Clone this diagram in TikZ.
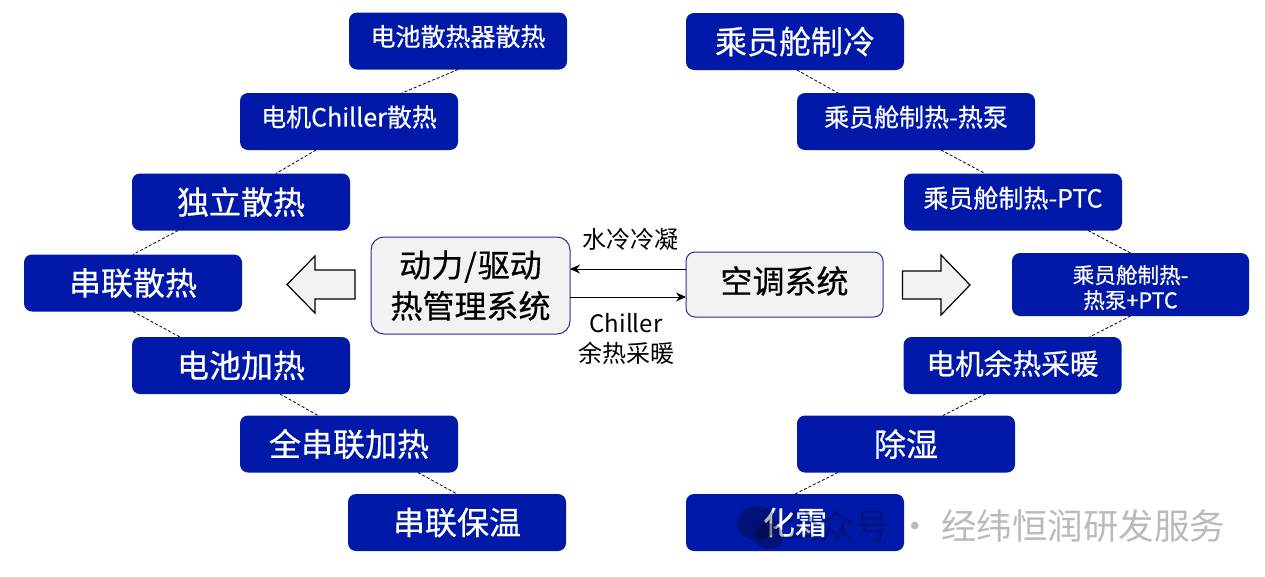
\documentclass[tikz,border=0pt]{standalone}
\usepackage{fontspec}
\setmainfont{Noto Sans CJK SC}
\newfontfamily\boxfont[FakeBold=0.5]{Noto Sans CJK SC}
\usepackage{tikz}
\usetikzlibrary{arrows.meta}
\definecolor{blockblue}{HTML}{0019A8}
\definecolor{framenavy}{HTML}{1F2F9A}
\definecolor{panelgray}{HTML}{F2F2F2}
\newcommand{\lifted}[2]{\raisebox{#1}[\height][\depth]{#2}}
\tikzstyle{modebox} = [rectangle, rounded corners=8pt, minimum width=218pt, minimum height=57pt, inner sep=0pt, outer sep=0pt, align=center, fill=blockblue, text=white, font=\boxfont\fontsize{32}{38}\selectfont]
\tikzstyle{midtext} = [font=\boxfont\fontsize{28.7}{34}\selectfont]
\tikzstyle{smalltext} = [font=\boxfont\fontsize{25}{30}\selectfont]
\tikzstyle{tinytext} = [font=\boxfont\fontsize{21.6}{25}\selectfont]
\tikzstyle{systembox} = [rectangle, inner sep=0pt, outer sep=0pt, align=center, draw=framenavy, line width=1pt, fill=panelgray, font=\boxfont\fontsize{32}{41}\selectfont]
\tikzstyle{link} = [densely dashed, line width=0.8pt, black]
\tikzstyle{arrow} = [line width=1pt, -{Stealth[length=10pt,width=9pt]}]
\tikzstyle{bigarrow} = [draw=black, line width=1.2pt, fill=panelgray, line join=miter]
\tikzstyle{edgetext} = [align=center, font=\fontsize{24}{30}\selectfont]
\begin{document}
\begin{tikzpicture}[x=1pt, y=-1pt]
\useasboundingbox (0,0) rectangle (1265,576);
% left column
\node (batrad) [modebox, smalltext] at (458,41) {\lifted{4.5pt}{电池散热器散热}};
\node (motorchiller) [modebox, smalltext] at (349,121.5) {\lifted{4.5pt}{电机Chiller散热}};
\node (solo) [modebox] at (241,202) {独立散热};
\node (series) [modebox] at (133,283) {串联散热};
\node (batheat) [modebox] at (241,365.5) {电池加热};
\node (fullseries) [modebox] at (349,444) {全串联加热};
\node (serieskeep) [modebox] at (457,522.5) {串联保温};
% right column
\node (cabincool) [modebox] at (795,41.5) {乘员舱制冷};
\node (cabinhp) [modebox, smalltext, minimum width=238pt] at (916,121.5) {\lifted{4.5pt}{乘员舱制热-热泵}};
\node (cabinptc) [modebox, smalltext] at (1013,202) {\lifted{4pt}{乘员舱制热-PTC}};
\node (cabinboth) [modebox, tinytext, minimum width=237pt, minimum height=63pt] at (1130.5,284.5) {\lifted{-3pt}{乘员舱制热-}\\\lifted{-3pt}{热泵+PTC}};
\node (motorwarm) [modebox, midtext] at (1012.5,365.5) {\lifted{2pt}{电机余热采暖}};
\node (dehumid) [modebox] at (906,444) {除湿};
\node (defrost) [modebox] at (795,522.5) {化霜};
% centre
\node (thermal) [systembox, rounded corners=13pt, minimum width=199pt, minimum height=97pt] at (470.5,285.5) {动力\kern1pt/\kern1pt驱动\\热管理系统};
\node (aircon) [systembox, rounded corners=9pt, minimum width=197pt, minimum height=65pt] at (784.5,284.5) {\lifted{3.5pt}{空调系统}};

\draw [arrow] ([yshift=15.5pt]aircon.west) -- ([yshift=16.5pt]thermal.east);
\draw [arrow] ([yshift=-11.5pt]thermal.east) -- ([yshift=-12.5pt]aircon.west);
\node (coolinglabel) [edgetext] at (630,239) {水冷冷凝};
\node (chillerlabel) [edgetext] at (626,339) {Chiller\\余热采暖};

\draw [bigarrow] (355,270) -- (315,270) -- (315,256) -- (287,284.5) -- (315,313) -- (315,299) -- (355,299) -- cycle;
\draw [bigarrow] (902.5,271) -- (941,271) -- (941,255) -- (970,285) -- (941,315) -- (941,299) -- (902.5,299) -- cycle;

\draw [link] (batrad.south) -- ([xshift=53pt]motorchiller.north);
\draw [link] ([xshift=-33pt]motorchiller.south) -- ([xshift=35pt]solo.north);
\draw [link] ([xshift=-63pt]solo.south) -- (series.north);
\draw [link] (series.south) -- ([xshift=-61pt]batheat.north);
\draw [link] ([xshift=39pt]batheat.south) -- ([xshift=-31pt]fullseries.north);
\draw [link] ([xshift=69pt]fullseries.south) -- (serieskeep.north);
\draw [link] ([xshift=2pt]cabincool.south) -- ([xshift=-78pt]cabinhp.north);
\draw [link] ([xshift=25pt]cabinhp.south) -- ([xshift=-28pt]cabinptc.north);
\draw [link] ([xshift=75pt]cabinptc.south) -- (cabinboth.north);
\draw [link] (cabinboth.south) -- ([xshift=77pt]motorwarm.north);
\draw [link] ([xshift=-27pt]motorwarm.south) -- ([xshift=37pt]dehumid.north);
\draw [link] ([xshift=-68pt]dehumid.south) -- (defrost.north);

% watermark
\fill [black, opacity=0.28] (757,523) ellipse (20pt and 17pt);
\fill [black, opacity=0.28] (769,536) ellipse (15pt and 12.5pt);
\node (watermark) [anchor=east, text=black, opacity=0.27, font=\fontsize{35.5}{40}\selectfont] at (1229,526) {公众号 · 经纬恒润研发服务};
\end{tikzpicture}
\end{document}
